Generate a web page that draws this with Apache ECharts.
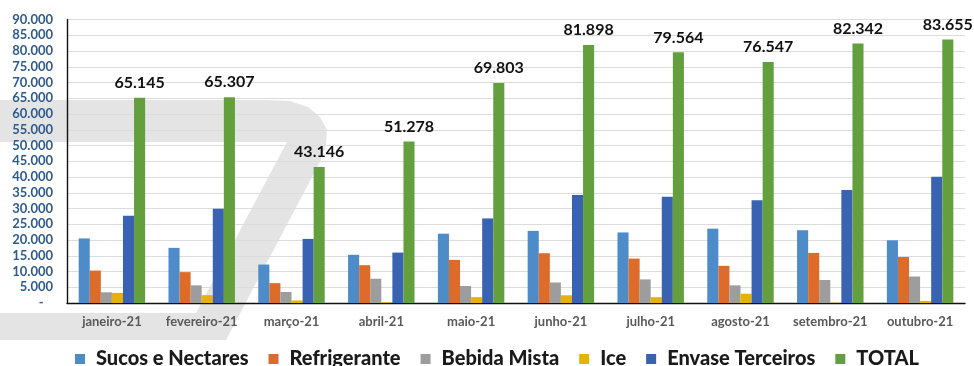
<!DOCTYPE html>
<html>
<head>
<meta charset="utf-8">
<script src="https://cdn.jsdelivr.net/npm/echarts@6/dist/echarts.min.js"></script>
<style>
  html, body { margin: 0; padding: 0; background: #ffffff; }
  #chart { width: 974px; height: 366px; }
</style>
</head>
<body>
<div id="chart"></div>
<script>
// Monthly volumes by product line, 2021
const months = ['janeiro-21', 'fevereiro-21', 'março-21', 'abril-21', 'maio-21',
                'junho-21', 'julho-21', 'agosto-21', 'setembro-21', 'outubro-21'];

const sucosNectares   = [20500, 17500, 12200, 15300, 22000, 22900, 22400, 23600, 23100, 19900];
const refrigerante    = [10300,  9800,  6300, 12000, 13700, 15800, 14100, 11800, 15900, 14600];
const bebidaMista     = [ 3400,  5600,  3500,  7700,  5400,  6500,  7500,  5600,  7300,  8400];
const ice             = [ 3200,  2500,   800,   250,  1850,  2450,  1850,  2950,   100,   650];
const envaseTerceiros = [27700, 29900, 20350, 16000, 26850, 34250, 33700, 32600, 35900, 40100];
const total           = [65145, 65307, 43146, 51278, 69803, 81898, 79564, 76547, 82342, 83655];

const seriesNames = ['Sucos e Nectares', 'Refrigerante', 'Bebida Mista', 'Ice', 'Envase Terceiros', 'TOTAL'];
const seriesColors = ['#4d8bc9', '#dd6b2a', '#9d9d9d', '#e8b10a', '#3a62b2', '#63a03d'];
const seriesData = [sucosNectares, refrigerante, bebidaMista, ice, envaseTerceiros, total];

const yMax = 90000;
const yStep = 5000;

const FONT = 'Lato, "Open Sans", sans-serif';

// Thousands with a dot separator; zero shown as a dash
function fmtThousands(v) {
  if (v === 0) return '-   ';
  return String(Math.round(v)).replace(/\B(?=(\d{3})+(?!\d))/g, '.');
}

const chart = echarts.init(document.getElementById('chart'), null, { renderer: 'canvas' });

const series = seriesNames.map((name, i) => {
  const s = {
    name: name,
    type: 'bar',
    data: seriesData[i],
    barGap: '0%',
    barCategoryGap: '26%',
    itemStyle: { color: seriesColors[i] },
    emphasis: { disabled: true },
    z: 3
  };
  if (name === 'TOTAL') {
    s.label = {
      show: true,
      position: 'top',
      distance: 7,
      formatter: p => fmtThousands(p.value),
      color: '#111111',
      fontFamily: FONT,
      fontWeight: 'bold',
      fontSize: 16
    };
  }
  return s;
});

chart.setOption({
  animation: false,
  backgroundColor: '#ffffff',
  textStyle: { fontFamily: FONT },
  // Light grey logo shape behind the plot
  graphic: [{
    type: 'polygon',
    z: -10,
    silent: true,
    shape: {
      points: [
        [0, 100], [265, 100], [290, 101], [308, 107], [320, 117], [327, 130],
        [326, 145], [320, 162], [226, 340], [0, 340], [0, 313], [196, 313],
        [287, 142], [0, 142]
      ]
    },
    style: { fill: '#e4e4e4' }
  }],
  grid: { left: 67, right: 9, top: 19.5, bottom: 63, containLabel: false },
  legend: {
    data: seriesNames,
    left: 70,
    top: 344,
    itemWidth: 10,
    itemHeight: 10,
    itemGap: 20,
    icon: 'rect',
    selectedMode: false,
    textStyle: {
      fontFamily: FONT,
      fontWeight: 900,
      fontSize: 20,
      color: '#1a1a1a',
      padding: [0, 0, 0, 6]
    }
  },
  xAxis: {
    type: 'category',
    data: months,
    axisLine: { show: true, lineStyle: { color: '#111111', width: 1.4 } },
    axisTick: { show: false },
    axisLabel: {
      interval: 0,
      margin: 12,
      color: '#595959',
      fontFamily: FONT,
      fontWeight: 'bold',
      fontSize: 13
    },
    splitLine: { show: false }
  },
  yAxis: {
    type: 'value',
    min: 0,
    max: yMax,
    interval: yStep,
    axisLine: { show: true, lineStyle: { color: '#111111', width: 1.4 } },
    axisTick: { show: false },
    axisLabel: {
      margin: 14,
      color: '#2e5b8c',
      fontFamily: FONT,
      fontWeight: 'bold',
      fontSize: 13,
      formatter: fmtThousands
    },
    splitLine: { show: true, lineStyle: { color: '#dcdcdc', width: 1 } }
  },
  series: series
});
</script>
</body>
</html>
